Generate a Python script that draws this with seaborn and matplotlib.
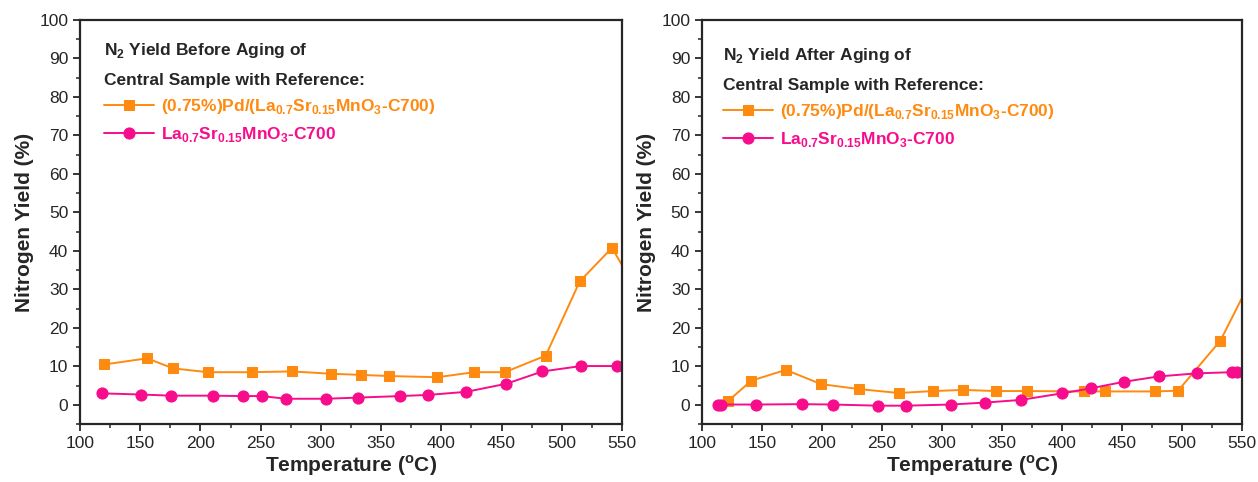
import numpy as np
import pandas as pd
import matplotlib
matplotlib.use("Agg")
import matplotlib.pyplot as plt
import seaborn as sns
from matplotlib.ticker import MultipleLocator

# datos
t_pd_before = [120, 155.7, 177.3, 206, 242.7, 276, 308.3, 333.3, 356.7, 396.7, 427.3, 452.7, 486.7, 515, 541.7, 560]
y_pd_before = [10.5, 12.1, 9.5, 8.5, 8.5, 8.7, 8.1, 7.8, 7.5, 7.2, 8.5, 8.5, 12.8, 32.1, 40.8, 31.0]
t_la_before = [118.3, 150.7, 175.7, 210.7, 235, 250.7, 271, 304, 330.7, 366, 389.3, 420.7, 454, 484, 516, 545.7]
y_la_before = [3.0, 2.7, 2.4, 2.4, 2.3, 2.3, 1.6, 1.6, 1.9, 2.3, 2.6, 3.4, 5.5, 8.7, 10.1, 10.1]

t_pd_after = [121.7, 141.2, 169.9, 199.4, 231.2, 264, 293, 318, 345, 371, 418.9, 436.3, 478, 497, 532.3, 560]
y_pd_after = [1.0, 6.3, 9.1, 5.4, 4.1, 3.1, 3.6, 3.9, 3.6, 3.6, 3.5, 3.5, 3.5, 3.7, 16.7, 33.8]
t_la_after = [113.4, 116, 145.2, 183, 209.4, 247.2, 270, 307.5, 335.9, 366, 400.1, 424, 451.7, 480.8, 512.6, 541.7, 546]
y_la_after = [0.1, 0.1, 0.1, 0.2, 0.1, -0.2, -0.2, 0.1, 0.6, 1.3, 3.0, 4.3, 6.0, 7.4, 8.2, 8.5, 8.5]

titulos = ["N$_\\mathbf{2}$ Yield Before Aging of", "N$_\\mathbf{2}$ Yield After Aging of"]
label_pd = "(0.75%)Pd/(La$_\\mathbf{0.7}$Sr$_\\mathbf{0.15}$MnO$_\\mathbf{3}$-C700)"
label_la = "La$_\\mathbf{0.7}$Sr$_\\mathbf{0.15}$MnO$_\\mathbf{3}$-C700"

naranja = "#FF8A10"
rosa = "#F70C8C"

sns.set_style("ticks")
plt.rcParams["font.family"] = ["Liberation Sans", "DejaVu Sans"]
plt.rcParams["mathtext.fontset"] = "custom"
plt.rcParams["mathtext.rm"] = "Liberation Sans"
plt.rcParams["mathtext.bf"] = "Liberation Sans:bold"
plt.rcParams["axes.linewidth"] = 1.6

fig = plt.figure(figsize=(12.58, 4.82), dpi=100)
ax1 = fig.add_axes([0.0636, 0.120, 0.4308, 0.8385])
ax2 = fig.add_axes([0.558, 0.120, 0.429, 0.8385])

# (ax, datos..., x texto, desplazamiento vertical)
datos = [
    (ax1, t_pd_before, y_pd_before, t_la_before, y_la_before, titulos[0], 0.044, 0.0),
    (ax2, t_pd_after, y_pd_after, t_la_after, y_la_after, titulos[1], 0.039, -0.013),
]

for ax, tp, yp, tl, yl, tit, x0, dy in datos:
    sns.lineplot(x=tp, y=yp, ax=ax, color=naranja, marker="s", markersize=7,
                 markeredgecolor=naranja, linewidth=1.4, label=label_pd, sort=False)
    sns.lineplot(x=tl, y=yl, ax=ax, color=rosa, marker="o", markersize=8,
                 markeredgecolor=rosa, linewidth=1.4, label=label_la, sort=False)
    ax.set_xlim(100, 550)
    ax.set_ylim(-5, 100)
    ax.xaxis.set_major_locator(MultipleLocator(50))
    ax.xaxis.set_minor_locator(MultipleLocator(25))
    ax.yaxis.set_major_locator(MultipleLocator(10))
    ax.yaxis.set_minor_locator(MultipleLocator(5))
    ax.tick_params(which="major", direction="out", length=5, width=1.3, labelsize=12.5)
    ax.tick_params(which="minor", direction="out", length=3, width=1.1)
    for s in ax.spines.values():
        s.set_visible(True)
    ax.set_xlabel("Temperature ($^\\mathbf{o}$C)", fontsize=15, fontweight="bold", labelpad=2)
    ax.set_ylabel("Nitrogen Yield (%)", fontsize=15, fontweight="bold", labelpad=4)
    ax.text(x0, 0.924 + dy, tit, transform=ax.transAxes, fontsize=12.5, fontweight="bold", va="center")
    ax.text(x0, 0.851 + dy, "Central Sample with Reference:", transform=ax.transAxes,
            fontsize=12.5, fontweight="bold", va="center")
    leg = ax.legend(loc="upper left", bbox_to_anchor=(x0 - 0.023, 0.839 + dy), frameon=False,
                    fontsize=12.5, handlelength=2.9, handletextpad=0.4, labelspacing=0.5,
                    borderpad=0.2)
    for txt, c in zip(leg.get_texts(), [naranja, rosa]):
        txt.set_color(c)
        txt.set_fontweight("bold")

fig.savefig("out.png", dpi=100)
